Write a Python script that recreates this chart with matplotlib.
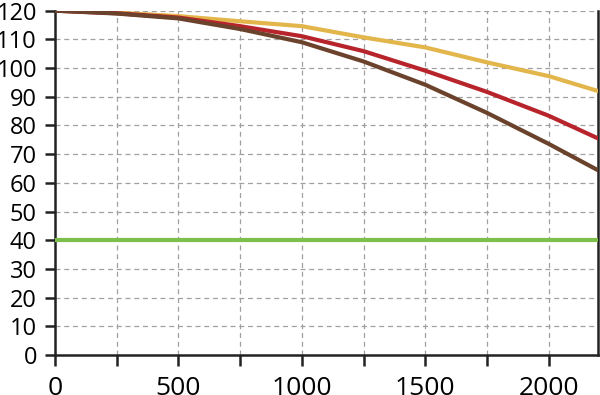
import matplotlib
matplotlib.use("Agg")
import matplotlib.pyplot as plt
from matplotlib.ticker import MultipleLocator

plt.rcParams['font.family'] = ['Open Sans', 'DejaVu Sans']

x = [0, 250, 500, 750, 1000, 1250, 1500, 1750, 2000, 2200]
yellow = [120, 119.3, 118.1, 116.3, 114.6, 110.7, 107.2, 102.0, 97.2, 92.0]
red = [120, 119.1, 117.6, 114.6, 111.1, 105.9, 99.1, 91.7, 83.4, 75.5]
brown = [120, 119.0, 117.3, 113.6, 109.0, 102.3, 94.2, 84.4, 73.6, 64.4]
limit = [40, 40]
limit_x = [0, 2200]

fig = plt.figure(figsize=(6, 3.95), dpi=100)
ax = fig.add_axes([0.0917, 0.101, 0.905, 0.872])

ax.plot(limit_x, limit, color='#7dbf4a', lw=3, solid_capstyle='butt', zorder=3)
ax.plot(x, yellow, color='#e3b64c', lw=3, zorder=4)
ax.plot(x, red, color='#b8242b', lw=3, zorder=5)
ax.plot(x, brown, color='#6b422c', lw=3, zorder=6)

ax.set_xlim(0, 2200)
ax.set_ylim(0, 120)
ax.xaxis.set_major_locator(MultipleLocator(500))
ax.xaxis.set_minor_locator(MultipleLocator(250))
ax.yaxis.set_major_locator(MultipleLocator(10))

ax.grid(which='both', axis='x', color='#a0a0a0', ls=(0, (4, 3)), lw=0.9)
ax.grid(which='major', axis='y', color='#a0a0a0', ls=(0, (4, 3)), lw=0.9)
ax.set_axisbelow(True)

ax.spines['top'].set_visible(False)
for s in ['left', 'bottom', 'right']:
    ax.spines[s].set_linewidth(1.8)
    ax.spines[s].set_color('#222222')

ax.tick_params(axis='both', which='both', direction='out', width=1.8, color='#222222')
ax.tick_params(axis='x', which='both', length=8, pad=7, labelsize=19)
ax.tick_params(axis='y', length=7, pad=6, labelsize=17)

fig.savefig('out.png', dpi=100)
